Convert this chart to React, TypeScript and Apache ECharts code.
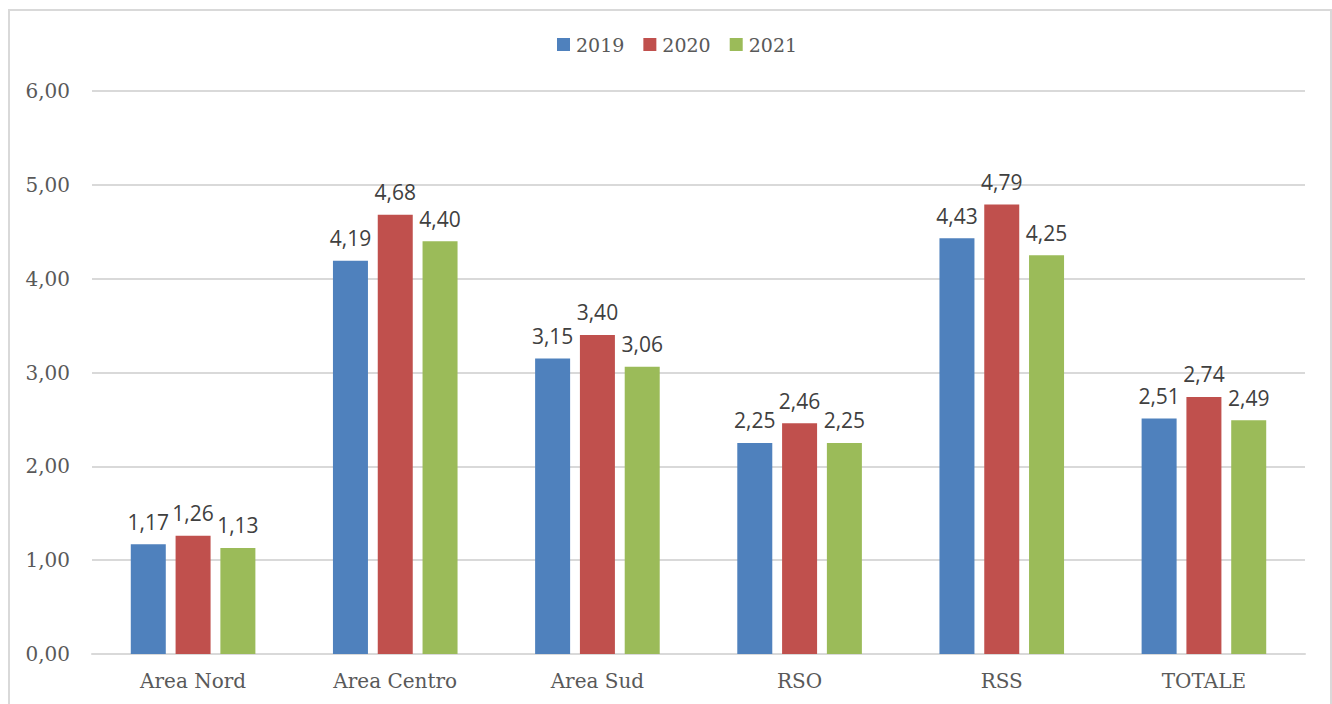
import React, { useEffect, useRef } from "react";
import * as echarts from "echarts";

const categories = ["Area Nord", "Area Centro", "Area Sud", "RSO", "RSS", "TOTALE"];
const seriesNames = ["2019", "2020", "2021"];
const values2019 = [1.17, 4.19, 3.15, 2.25, 4.43, 2.51];
const values2020 = [1.26, 4.68, 3.4, 2.46, 4.79, 2.74];
const values2021 = [1.13, 4.4, 3.06, 2.25, 4.25, 2.49];
const colors = ["#4F81BD", "#C0504D", "#9BBB59"];

const fmt = (v: number) => v.toFixed(2).replace(".", ",");

export default function App() {
  const ref = useRef<HTMLDivElement>(null);
  useEffect(() => {
    if (!ref.current) return;
    const chart = echarts.init(ref.current, undefined, { renderer: "svg" });
    const data = [values2019, values2020, values2021];
    chart.setOption({
      animation: false,
      backgroundColor: "#ffffff",
      graphic: [
        {
          type: "rect",
          shape: { x: 9, y: 10, width: 1322, height: 700 },
          style: { fill: "none", stroke: "#D9D9D9", lineWidth: 2 },
          silent: true,
        },
      ],
      legend: {
        top: 30,
        left: 552,
        itemWidth: 13,
        itemHeight: 13,
        itemGap: 19,
        icon: "rect",
        textStyle: { fontFamily: "DejaVu Serif", fontSize: 19, color: "#595959", padding: [0, 0, 0, 1] },
        data: seriesNames,
      },
      grid: { left: 92, right: 27, top: 91, bottom: 50, containLabel: false },
      xAxis: {
        type: "category",
        data: categories,
        axisLine: { lineStyle: { color: "#D9D9D9", width: 2 } },
        axisTick: { show: false },
        axisLabel: {
          fontFamily: "DejaVu Serif",
          fontSize: 20,
          color: "#595959",
          margin: 17,
        },
      },
      yAxis: {
        type: "value",
        min: 0,
        max: 6,
        interval: 1,
        axisLine: { show: false },
        axisTick: { show: false },
        splitLine: { lineStyle: { color: "#D9D9D9", width: 2 } },
        axisLabel: {
          fontFamily: "DejaVu Serif",
          fontSize: 20,
          color: "#595959",
          margin: 22,
          formatter: (v: number) => fmt(v),
        },
      },
      series: seriesNames.map((name, i) => ({
        name,
        type: "bar",
        data: data[i],
        barWidth: 35,
        barGap: "28%",
        itemStyle: { color: colors[i] },
        label: {
          show: true,
          position: "top",
          distance: 12,
          fontFamily: "Open Sans",
          fontSize: 21,
          color: "#404040",
          formatter: (p: any) => fmt(p.value),
        },
      })),
    });
    return () => chart.dispose();
  }, []);
  return (
    <div
      ref={ref}
      style={{ position: "absolute", left: 0, top: 0, width: 1332, height: 704 }}
    />
  );
}
